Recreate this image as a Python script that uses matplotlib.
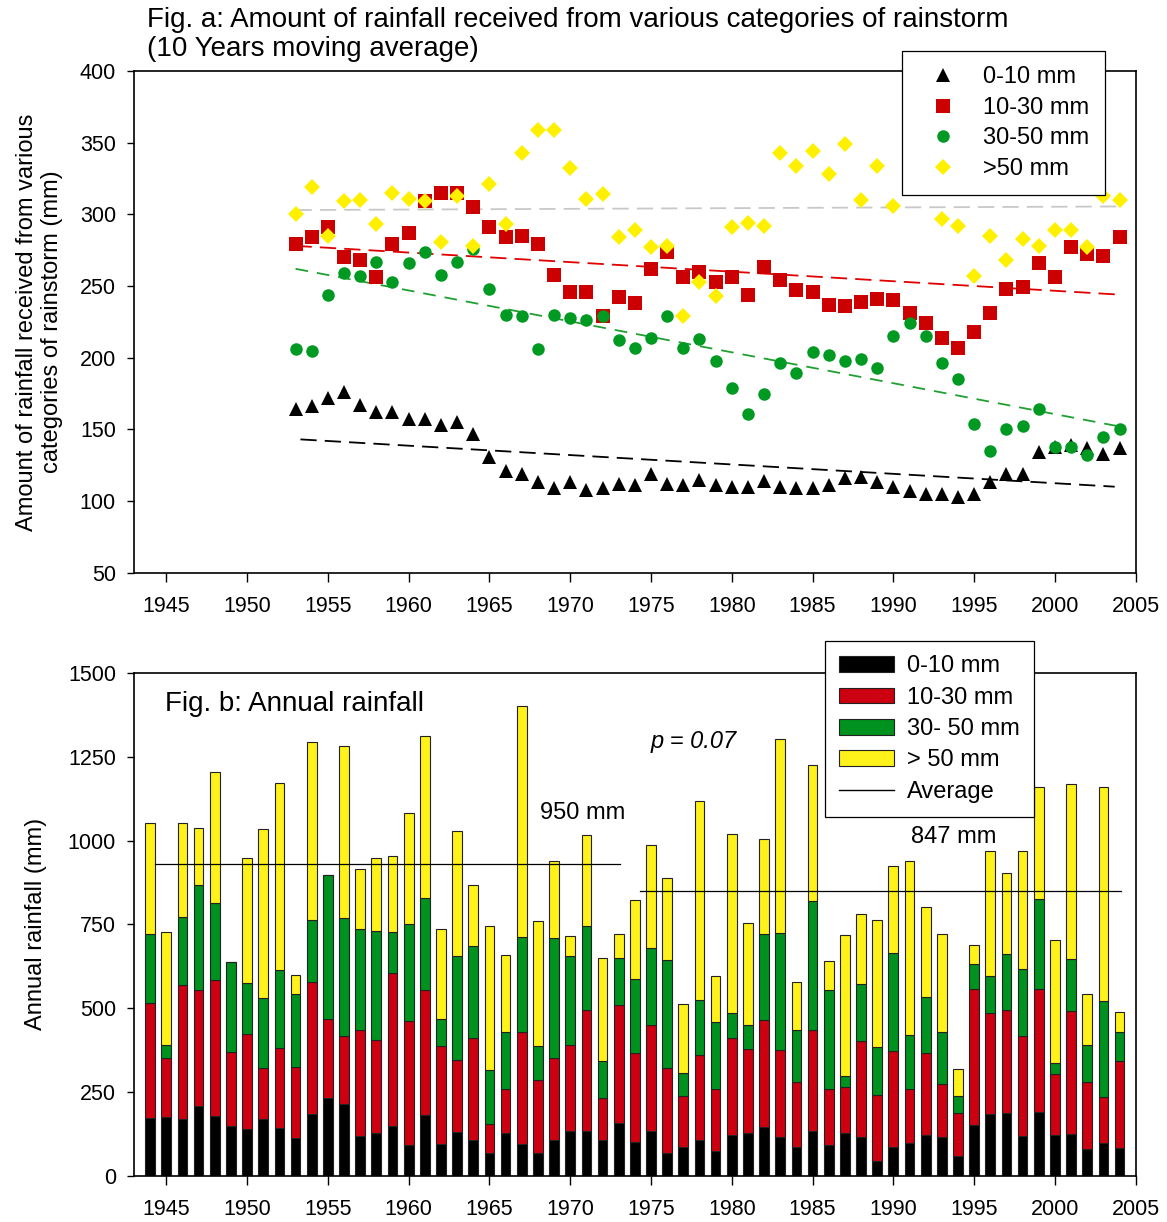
import numpy as np
import matplotlib.pyplot as plt
from matplotlib.lines import Line2D

plt.rcParams['font.family'] = ['Liberation Sans', 'DejaVu Sans']

# ---- Fig. a : 10 years moving average (1953-2004)
years_a = np.arange(1953, 2005)
avg_0_10 = [164, 166, 172, 176, 167, 162, 162, 157, 157, 153,
            155, 147, 131, 121, 119, 113, 109, 113, 108, 109,
            112, 111, 119, 112, 111, 115, 111, 110, 110, 114,
            110, 109, 109, 111, 116, 117, 113, 110, 107, 105,
            105, 103, 105, 113, 119, 119, 134, 138, 139, 137,
            133, 137]
avg_10_30 = [279, 284, 291, 270, 268, 256, 279, 287, 309, 315,
             315, 305, 291, 284, 285, 279, 258, 246, 246, 229,
             242, 238, 262, 274, 256, 260, 253, 256, 244, 263,
             254, 247, 246, 237, 236, 239, 241, 240, 231, 224,
             214, 207, 218, 231, 248, 249, 266, 256, 277, 272,
             271, 284]
avg_30_50 = [206, 205, 244, 259, 257, 267, 253, 266, 274, 258,
             267, 276, 248, 230, 229, 206, 230, 228, 226, 229,
             212, 207, 214, 229, 207, 213, 198, 179, 161, 175,
             196, 189, 204, 202, 198, 199, 193, 215, 224, 215,
             196, 185, 154, 135, 150, 152, 164, 138, 138, 132,
             145, 150]
avg_gt_50 = [300, 319, 285, 309, 310, 293, 315, 311, 309, 281,
             313, 278, 321, 293, 343, 359, 359, 332, 311, 314,
             284, 289, 277, 278, 229, 253, 243, 291, 294, 292,
             343, 334, 344, 328, 349, 310, 334, 306, 328, 335,
             297, 292, 257, 285, 268, 283, 278, 289, 289, 277,
             313, 310]

# trend lines (start / end values)
trend_x = [1953, 2004]
trend_black = [143, 110]
trend_red = [278, 244]
trend_green = [262, 152]
trend_gray = [303, 305.5]

# ---- Fig. b : annual rainfall (1944-2004)
years_b = np.arange(1944, 2005)
rain_0_10 = [172, 175, 168, 209, 178, 147, 138, 170, 142, 112,
             184, 231, 214, 117, 127, 147, 92, 182, 95, 130,
             105, 68, 128, 95, 68, 105, 132, 132, 105, 157,
             100, 132, 68, 85, 105, 72, 120, 128, 145, 115,
             86, 132, 90, 128, 115, 42, 85, 98, 120, 115,
             57, 150, 183, 186, 118, 189, 120, 125, 78, 97,
             83]
rain_10_30 = [342, 176, 400, 346, 405, 222, 286, 152, 240, 212,
              394, 235, 203, 317, 277, 459, 370, 371, 291, 216,
              307, 85, 131, 334, 216, 246, 257, 362, 127, 352,
              266, 317, 254, 151, 256, 185, 292, 249, 319, 259,
              192, 304, 169, 136, 287, 199, 286, 161, 246, 159,
              130, 408, 303, 308, 298, 369, 182, 367, 201, 137,
              259]
rain_30_50 = [206, 38, 203, 314, 230, 269, 151, 209, 233, 219,
              185, 431, 351, 301, 327, 122, 288, 275, 80, 310,
              274, 161, 170, 284, 102, 357, 266, 252, 110, 142,
              222, 231, 321, 71, 162, 200, 72, 72, 257, 349,
              156, 385, 296, 32, 171, 143, 295, 162, 167, 155,
              49, 73, 109, 169, 200, 268, 35, 156, 110, 286,
              87]
rain_gt_50 = [332, 339, 281, 169, 391, 0, 372, 504, 557, 57,
              533, 0, 516, 180, 218, 227, 334, 485, 269, 374,
              181, 432, 231, 688, 375, 232, 60, 272, 309, 69,
              236, 306, 247, 205, 595, 139, 536, 304, 283, 581,
              143, 406, 86, 421, 208, 379, 257, 519, 270, 292,
              83, 57, 374, 241, 353, 333, 366, 522, 154, 641,
              60]

avg_periods = [(1944.3, 1973.1), (1974.3, 2004.1)]
avg_values = [931, 851]

RED = '#CC0010'
GREEN = '#00921E'
YELLOW = '#FFF21A'

fig = plt.figure(figsize=(11.67, 12.22), dpi=100)
ax1 = fig.add_axes([0.11482, 0.53134, 0.85835, 0.41056])
ax2 = fig.add_axes([0.11482, 0.03805, 0.85835, 0.41097])

# ---------------- top panel
ax1.plot(trend_x, trend_gray, color='#C8C8C8', lw=1.3, dashes=(9, 4.5), zorder=1)
ax1.plot(trend_x, trend_red, color='#E00000', lw=1.3, dashes=(9, 4.5), zorder=1)
ax1.plot(trend_x, trend_green, color='#1FA030', lw=1.3, dashes=(7, 5), zorder=1)
ax1.plot([1953.3, 2003.7], trend_black, color='black', lw=1.3, dashes=(9, 4.5), zorder=1)

ax1.plot(years_a, avg_0_10, ls='none', marker='^', ms=10, mew=0,
         color='black', label='0-10 mm', zorder=2)
ax1.plot(years_a, avg_10_30, ls='none', marker='s', ms=9.5, mew=0,
         color='#CC0000', label='10-30 mm', zorder=3)
ax1.plot(years_a, avg_30_50, ls='none', marker='o', ms=9, mew=0,
         color='#009A22', label='30-50 mm', zorder=4)
ax1.plot(years_a, avg_gt_50, ls='none', marker='D', ms=8.2, mew=0,
         color='#FFF000', label='>50 mm', zorder=5)

ax1.set_xlim(1943, 2005)
ax1.set_ylim(50, 400)
ax1.set_xticks(range(1945, 2006, 5))
ax1.set_yticks(range(50, 401, 50))
ax1.set_ylabel('Amount of rainfall received from various\ncategories of rainstorm (mm)',
               fontsize=17, linespacing=1.15)
ax1.yaxis.set_label_coords(-0.071, 0.5)

leg1 = ax1.legend(loc='upper left', bbox_to_anchor=(902 / 1167, 1 - 51 / 1222),
                  bbox_transform=fig.transFigure, borderaxespad=0, fancybox=False,
                  framealpha=1, edgecolor='black', fontsize=17, numpoints=1,
                  handlelength=2.2, handletextpad=0.6, borderpad=0.65, labelspacing=0.36)
leg1.get_frame().set_linewidth(0.9)
leg1.set_zorder(10)

fig.text(147 / 1167, 1 - 7 / 1222,
         'Fig. a: Amount of rainfall received from various categories of rainstorm\n'
         '(10 Years moving average)',
         fontsize=20, va='top', ha='left', linespacing=1.15)

# ---------------- bottom panel
bottom = np.zeros(len(years_b))
bars = []
for vals, col, lab in [(rain_0_10, 'black', '0-10 mm'),
                       (rain_10_30, RED, '10-30 mm'),
                       (rain_30_50, GREEN, '30- 50 mm'),
                       (rain_gt_50, YELLOW, '> 50 mm')]:
    b = ax2.bar(years_b, vals, bottom=bottom, width=0.6, color=col,
                edgecolor='#222222', linewidth=0.8, label=lab, zorder=2)
    bars.append(b)
    bottom = bottom + np.array(vals)

for (x0, x1), v in zip(avg_periods, avg_values):
    ax2.plot([x0, x1], [v, v], color='black', lw=0.9, zorder=3)

ax2.text(1968.1, 1083, '950 mm', fontsize=17, ha='left', va='center')
ax2.text(1991.1, 1012, '847 mm', fontsize=17, ha='left', va='center')
ax2.text(1975.0, 1296, 'p = 0.07', fontsize=17, ha='left', va='center', style='italic')
ax2.text(0.031, 0.939, 'Fig. b: Annual rainfall', fontsize=20,
         ha='left', va='center', transform=ax2.transAxes)

ax2.set_xlim(1943, 2005)
ax2.set_ylim(0, 1500)
ax2.set_xticks(range(1945, 2006, 5))
ax2.set_yticks(range(0, 1501, 250))
ax2.set_ylabel('Annual rainfall (mm)', fontsize=17)
ax2.yaxis.set_label_coords(-0.087, 0.5)

avg_handle = Line2D([], [], color='black', lw=1.0)
leg2 = ax2.legend(bars + [avg_handle],
                  ['0-10 mm', '10-30 mm', '30- 50 mm', '> 50 mm', 'Average'],
                  loc='upper left', bbox_to_anchor=(825 / 1167, 1 - 641 / 1222),
                  bbox_transform=fig.transFigure, borderaxespad=0, fancybox=False,
                  framealpha=1, edgecolor='black', fontsize=17,
                  handlelength=2.33, handleheight=0.64, handletextpad=0.55,
                  borderpad=0.6, labelspacing=0.4)
leg2.get_frame().set_linewidth(0.9)
leg2.set_zorder(10)

for ax in (ax1, ax2):
    ax.tick_params(axis='x', direction='out', length=6.5, width=1, labelsize=15.5,
                   pad=10.5, top=False)
    ax.tick_params(axis='y', direction='out', length=5, width=1, labelsize=15.5,
                   pad=8, right=False)
    for s in ax.spines.values():
        s.set_linewidth(1.2)

fig.savefig('out.png', dpi=100)
